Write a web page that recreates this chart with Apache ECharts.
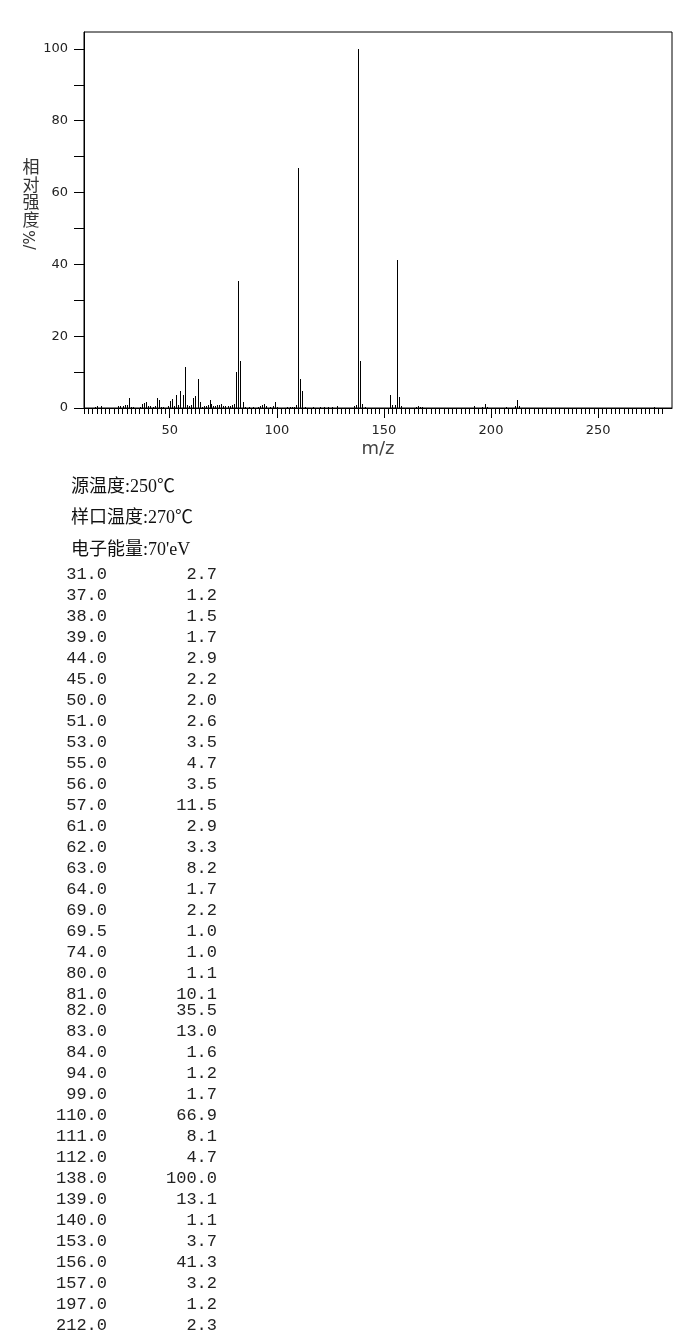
<!DOCTYPE html>
<html><head><meta charset="utf-8">
<script src="https://cdn.jsdelivr.net/npm/echarts@6/dist/echarts.min.js"></script>
<style>html,body{margin:0;padding:0;background:#fff}#c{width:694px;height:1332px}</style>
</head><body><div id="c"></div>
<script>
// Listed peaks (>= 1 %)
const peakMz  = [31,37,38,39,44,45,50,51,53,55,56,57,61,62,63,64,69,69.5,74,80,81,82,83,84,94,99,110,111,112,138,139,140,153,156,157,197,212];
const peakInt = [2.7,1.2,1.5,1.7,2.9,2.2,2.0,2.6,3.5,4.7,3.5,11.5,2.9,3.3,8.2,1.7,2.2,1.0,1.0,1.1,10.1,35.5,13.0,1.6,1.2,1.7,66.9,8.1,4.7,100.0,13.1,1.1,3.7,41.3,3.2,1.2,2.3];
// Small unlisted peaks (< 1 %)
const minorMz  = [15,16,18,26,27,28,29,30,32,33,36,40,41,42,43,46,47,49,52,54,58,59,60,65,66,67,68,70,71,72,73,75,76,77,78,79,85,87,89,91,92,93,95,97,98,100,105,106,107,108,109,113,117,120,122,124,126,128,136,137,141,154,155,158,165,166,167,168,192,196,198,207,211,213,276];
const minorInt = [0.4,0.6,0.5,0.5,0.6,0.6,0.9,0.8,0.4,0.3,0.4,0.5,0.5,0.4,0.5,0.4,0.4,0.6,0.6,0.7,0.9,0.5,0.7,0.4,0.5,0.5,0.9,0.6,0.5,0.8,0.9,0.5,0.6,0.5,0.6,0.8,0.4,0.4,0.3,0.4,0.6,0.8,0.5,0.4,0.5,0.3,0.3,0.4,0.3,0.4,0.9,0.3,0.3,0.3,0.4,0.3,0.3,0.5,0.6,0.8,0.4,0.8,0.8,0.6,0.4,0.5,0.4,0.4,0.5,0.3,0.4,0.3,0.5,0.5,0.4];

const xLabelValues = [50,100,150,200,250];
const xMinorTicks = [];
for (let v = 10; v <= 280; v += 2) xMinorTicks.push(v);
const yLabelValues = [0,20,40,60,80,100];
const yTickValues = [0,10,20,30,40,50,60,70,80,90,100];
const headerLines = ['源温度:250℃', '样口温度:270℃', "电子能量:70'eV"];
const yNameChars = ['相','对','强','度'];
const yNameTail = '/%';

const barData = [];
peakMz.forEach((m, i) => barData.push([m, peakInt[i]]));
minorMz.forEach((m, i) => barData.push([m, minorInt[i]]));

const mzStr = peakMz.map(v => v.toFixed(1));
const intStr = peakInt.map(v => v.toFixed(1));
const split = 21;

const chart = echarts.init(document.getElementById('c'));
const txtFont = '17px "Liberation Mono", monospace';
const hdrFont = '18px "Liberation Serif", "Noto Sans CJK SC", serif';
chart.setOption({
  animation: false,
  backgroundColor: '#fff',
  grid: { left: 84, top: 32, width: 588, height: 376, show: true, borderColor: '#000', borderWidth: 1, backgroundColor: 'transparent' },
  xAxis: [
    { type: 'value', min: 10, max: 284.5, position: 'bottom',
      axisLine: { show: true, lineStyle: { color: '#000', width: 1 } },
      axisTick: { show: true, customValues: xLabelValues, length: 10, lineStyle: { color: '#000' } },
      axisLabel: { customValues: xLabelValues, margin: 16, fontSize: 13, color: '#222', fontFamily: 'DejaVu Sans' },
      splitLine: { show: false },
      name: 'm/z', nameLocation: 'middle', nameGap: 32,
      nameTextStyle: { fontSize: 18, color: '#444', fontFamily: 'DejaVu Sans', verticalAlign: 'top' } },
    { type: 'value', min: 10, max: 284.5, position: 'bottom',
      axisLine: { show: false },
      axisTick: { show: true, customValues: xMinorTicks, length: 6, lineStyle: { color: '#000' } },
      axisLabel: { show: false }, splitLine: { show: false } }
  ],
  yAxis: { type: 'value', min: 0, max: 104.7,
    axisLine: { show: true, lineStyle: { color: '#000' } },
    axisTick: { show: true, customValues: yTickValues, length: 10, lineStyle: { color: '#000' } },
    axisLabel: { customValues: yLabelValues, margin: 16, fontSize: 13, color: '#222', fontFamily: 'DejaVu Sans' },
    splitLine: { show: false } },
  series: [{
    type: 'custom', xAxisIndex: 0, yAxisIndex: 0, data: barData,
    renderItem: function (params, api) {
      const p0 = api.coord([api.value(0), 0]);
      const p1 = api.coord([api.value(0), api.value(1)]);
      const x = Math.round(p0[0]);
      return { type: 'rect', shape: { x: x, y: Math.round(p1[1]), width: 1, height: Math.round(p0[1]) - Math.round(p1[1]) }, style: { fill: '#000' } };
    }
  }],
  graphic: [
    { type: 'text', x: 31, y: 158, style: { text: yNameChars.join('\n'), font: '17px "Noto Sans CJK SC"', lineHeight: 17.5, fill: '#333', align: 'center', verticalAlign: 'top' } },
    { type: 'text', x: 31, y: 240, rotation: Math.PI / 2, style: { text: yNameTail, font: '15px "DejaVu Sans"', fill: '#333', align: 'center', verticalAlign: 'middle' } },
    { type: 'text', x: 71, y: 487, style: { text: headerLines[0], font: hdrFont, fill: '#111', verticalAlign: 'middle' } },
    { type: 'text', x: 71, y: 518.5, style: { text: headerLines[1], font: hdrFont, fill: '#111', verticalAlign: 'middle' } },
    { type: 'text', x: 71, y: 550, style: { text: headerLines[2], font: hdrFont, fill: '#111', verticalAlign: 'middle' } },
    { type: 'text', x: 107, y: 563.5, style: { text: mzStr.slice(0, split).join('\n'), font: txtFont, lineHeight: 21, fill: '#222', align: 'right', verticalAlign: 'top' } },
    { type: 'text', x: 217, y: 563.5, style: { text: intStr.slice(0, split).join('\n'), font: txtFont, lineHeight: 21, fill: '#222', align: 'right', verticalAlign: 'top' } },
    { type: 'text', x: 107, y: 999.5, style: { text: mzStr.slice(split).join('\n'), font: txtFont, lineHeight: 21, fill: '#222', align: 'right', verticalAlign: 'top' } },
    { type: 'text', x: 217, y: 999.5, style: { text: intStr.slice(split).join('\n'), font: txtFont, lineHeight: 21, fill: '#222', align: 'right', verticalAlign: 'top' } }
  ]
});
</script></body></html>
